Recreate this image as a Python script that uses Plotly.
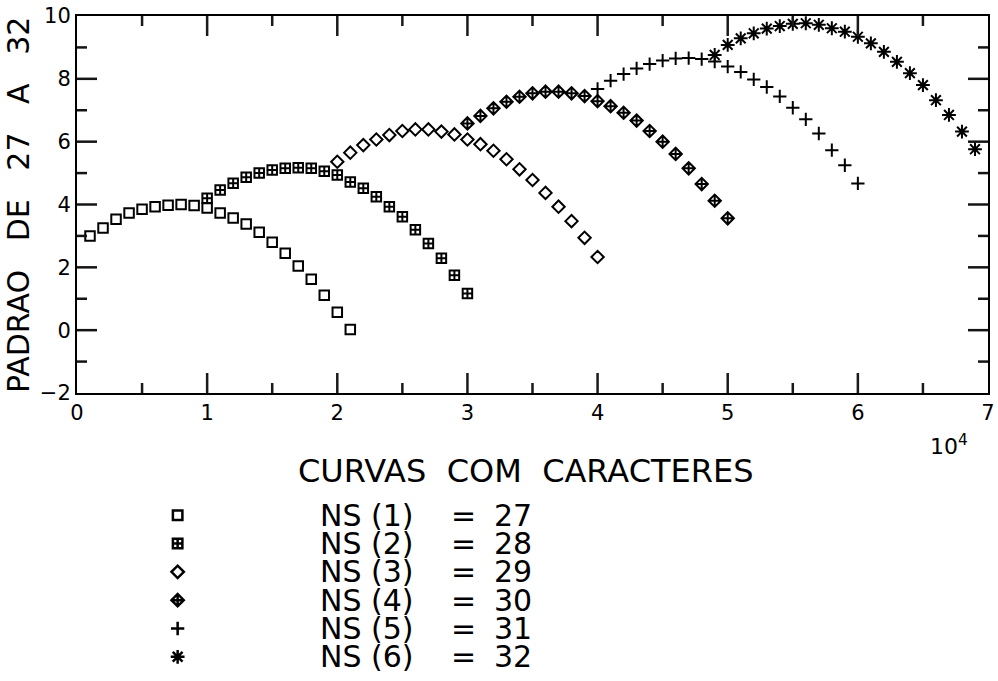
import plotly.graph_objects as go

# ---------------- data (x in units of 10^4) ----------------
X1 = [0.1, 0.2, 0.3, 0.4, 0.5, 0.6, 0.7, 0.8, 0.9, 1.0, 1.1, 1.2, 1.3, 1.4, 1.5, 1.6, 1.7, 1.8, 1.9, 2.0, 2.1]
X2 = [1.0, 1.1, 1.2, 1.3, 1.4, 1.5, 1.6, 1.7, 1.8, 1.9, 2.0, 2.1, 2.2, 2.3, 2.4, 2.5, 2.6, 2.7, 2.8, 2.9, 3.0]
X3 = [2.0, 2.1, 2.2, 2.3, 2.4, 2.5, 2.6, 2.7, 2.8, 2.9, 3.0, 3.1, 3.2, 3.3, 3.4, 3.5, 3.6, 3.7, 3.8, 3.9, 4.0]
X4 = [3.0, 3.1, 3.2, 3.3, 3.4, 3.5, 3.6, 3.7, 3.8, 3.9, 4.0, 4.1, 4.2, 4.3, 4.4, 4.5, 4.6, 4.7, 4.8, 4.9, 5.0]
X5 = [4.0, 4.1, 4.2, 4.3, 4.4, 4.5, 4.6, 4.7, 4.8, 4.9, 5.0, 5.1, 5.2, 5.3, 5.4, 5.5, 5.6, 5.7, 5.8, 5.9, 6.0]
X6 = [4.9, 5.0, 5.1, 5.2, 5.3, 5.4, 5.5, 5.6, 5.7, 5.8, 5.9, 6.0, 6.1, 6.2, 6.3, 6.4, 6.5, 6.6, 6.7, 6.8, 6.9]

Y1 = [3.0, 3.25, 3.53, 3.73, 3.85, 3.93, 3.98, 4.0, 3.97, 3.89, 3.73, 3.57, 3.38, 3.12, 2.8, 2.45, 2.04, 1.62, 1.11, 0.57, 0.02]
Y2 = [4.2, 4.46, 4.68, 4.87, 5.0, 5.1, 5.15, 5.17, 5.15, 5.06, 4.94, 4.72, 4.52, 4.25, 3.93, 3.61, 3.2, 2.76, 2.29, 1.75, 1.17]
Y3 = [5.36, 5.65, 5.89, 6.07, 6.21, 6.34, 6.39, 6.39, 6.32, 6.23, 6.07, 5.92, 5.71, 5.44, 5.12, 4.78, 4.37, 3.93, 3.47, 2.94, 2.33]
Y4 = [6.58, 6.82, 7.06, 7.27, 7.43, 7.54, 7.59, 7.59, 7.54, 7.45, 7.29, 7.13, 6.92, 6.67, 6.34, 6.0, 5.61, 5.15, 4.65, 4.12, 3.56]
Y5 = [7.68, 7.94, 8.15, 8.33, 8.47, 8.58, 8.65, 8.66, 8.63, 8.55, 8.39, 8.22, 7.98, 7.74, 7.44, 7.08, 6.71, 6.26, 5.73, 5.25, 4.67]
Y6 = [8.76, 9.08, 9.29, 9.45, 9.6, 9.68, 9.75, 9.77, 9.72, 9.61, 9.5, 9.34, 9.13, 8.86, 8.54, 8.18, 7.8, 7.32, 6.85, 6.32, 5.76]

SERIES_X = [X1, X2, X3, X4, X5, X6]
SERIES_Y = [Y1, Y2, Y3, Y4, Y5, Y6]
NS_INDEX = [1, 2, 3, 4, 5, 6]
NS_VALUE = [27, 28, 29, 30, 31, 32]

X_RANGE = [0, 7]
Y_RANGE = [-2, 10]
X_MAJOR_TICKS = [1, 2, 3, 4, 5, 6]
X_MINOR_TICKS = [0.5, 1.5, 2.5, 3.5, 4.5, 5.5, 6.5]
Y_MAJOR_TICKS = [0, 2, 4, 6, 8]
Y_MINOR_TICKS = [-1, 1, 3, 5, 7, 9]

Y_TITLE = "PADRAO   DE   27   A   32"
LEGEND_TITLE = "CURVAS  COM  CARACTERES"
X_MULTIPLIER = "10<sup>4</sup>"

# ---------------- styles ----------------
SYMBOLS = ["square-open", "square-cross-open", "diamond-open",
           "diamond-cross-open", "cross-thin-open", "asterisk-open"]
SIZES = [9.5, 9.5, 9.5, 9.5, 9.5, 11.5]
FONT = "DejaVu Sans"
W, H = 998, 681
PL, PR, PT, PB = 77, 988, 16, 393
MAJOR_LEN_PX, MINOR_LEN_PX = 20, 10

fig = go.Figure()

for xs, ys, sym, sz in zip(SERIES_X, SERIES_Y, SYMBOLS, SIZES):
    fig.add_trace(go.Scatter(
        x=xs, y=ys, mode="markers", xaxis="x", yaxis="y",
        marker=dict(symbol=sym, size=sz, color="black",
                    line=dict(color="black", width=2)),
        showlegend=False))

# ---- tick marks: bottom/top as a line trace, left/right as shapes ----
px_per_x = (PR - PL) / (X_RANGE[1] - X_RANGE[0])
px_per_y = (PB - PT) / (Y_RANGE[1] - Y_RANGE[0])
tx, ty = [], []
for vals, ln in ((X_MAJOR_TICKS, MAJOR_LEN_PX), (X_MINOR_TICKS, MINOR_LEN_PX)):
    dy = ln / px_per_y
    for v in vals:
        tx += [v, v, None, v, v, None]
        ty += [Y_RANGE[0], Y_RANGE[0] + dy, None, Y_RANGE[1], Y_RANGE[1] - dy, None]
fig.add_trace(go.Scatter(x=tx, y=ty, mode="lines", xaxis="x", yaxis="y",
                         line=dict(color="#1a1a1a", width=2.5), showlegend=False))

shapes = []
for vals, ln in ((Y_MAJOR_TICKS, MAJOR_LEN_PX), (Y_MINOR_TICKS, MINOR_LEN_PX)):
    dx = ln / px_per_x
    for v in vals:
        shapes.append(dict(type="line", xref="x", yref="y", y0=v, y1=v,
                           x0=X_RANGE[0], x1=X_RANGE[0] + dx,
                           line=dict(color="rgb(20,20,20)", width=2.5)))
        shapes.append(dict(type="line", xref="x", yref="y", y0=v, y1=v,
                           x0=X_RANGE[1], x1=X_RANGE[1] - dx,
                           line=dict(color="rgb(20,20,20)", width=2.5)))

for i, (sym, sz) in enumerate(zip(SYMBOLS, SIZES)):
    fig.add_trace(go.Scatter(
        x=[0.178], y=[i], mode="markers", xaxis="x3", yaxis="y3",
        marker=dict(symbol=sym, size=sz, color="black",
                    line=dict(color="black", width=2.5)),
        showlegend=False))

LEG_FONT = dict(family=FONT, size=30, color="black")
annotations = []
for i, (k, v) in enumerate(zip(NS_INDEX, NS_VALUE)):
    annotations.append(dict(xref="paper", yref="y3", x=318 / W, y=i,
                            text=f"NS ({k})", showarrow=False, xanchor="left",
                            yanchor="middle", font=LEG_FONT))
    annotations.append(dict(xref="paper", yref="y3", x=463 / W, y=i,
                            text="=", showarrow=False, xanchor="center",
                            yanchor="middle", font=LEG_FONT))
    annotations.append(dict(xref="paper", yref="y3", x=492 / W, y=i,
                            text=str(v), showarrow=False, xanchor="left",
                            yanchor="middle", font=LEG_FONT))

annotations.append(dict(xref="paper", yref="paper", x=526 / W, y=1 - 471 / H,
                        text=LEGEND_TITLE, showarrow=False, xanchor="center",
                        yanchor="middle", font=dict(family=FONT, size=32, color="black")))
annotations.append(dict(xref="paper", yref="paper", x=18 / W, y=1 - 205 / H,
                        text=Y_TITLE, textangle=-90, showarrow=False, xanchor="center",
                        yanchor="middle", font=dict(family=FONT, size=30, color="black")))
annotations.append(dict(xref="paper", yref="paper", x=928 / W, y=1 - 445 / H,
                        text=X_MULTIPLIER, showarrow=False, xanchor="left",
                        yanchor="middle", font=dict(family=FONT, size=22, color="black")))

XD = [PL / W, PR / W]
YD = [1 - PB / H, 1 - PT / H]

fig.update_layout(
    width=W, height=H,
    paper_bgcolor="white", plot_bgcolor="white",
    margin=dict(l=0, r=0, t=0, b=0, autoexpand=False),
    showlegend=False,
    xaxis=dict(domain=XD, anchor="y", range=X_RANGE,
               tickmode="linear", tick0=0, dtick=1, ticks="",
               showgrid=False, zeroline=False, showline=True, linecolor="black",
               linewidth=2, mirror=True,
               tickfont=dict(family=FONT, size=21, color="black")),
    yaxis=dict(domain=YD, anchor="x", range=Y_RANGE,
               tickmode="linear", tick0=0, dtick=2, ticks="",
               showgrid=False, zeroline=False, showline=True, linecolor="black",
               linewidth=2, mirror=True,
               tickfont=dict(family=FONT, size=21, color="black")),
    xaxis3=dict(domain=[0, 1], anchor="y3", range=[0, 1], visible=False, fixedrange=True),
    yaxis3=dict(domain=[1 - 671 / H, 1 - 501 / H], anchor="x3", range=[5.5, -0.5],
                visible=False, fixedrange=True),
    shapes=shapes,
    annotations=annotations,
)

fig.write_html("out.html")
